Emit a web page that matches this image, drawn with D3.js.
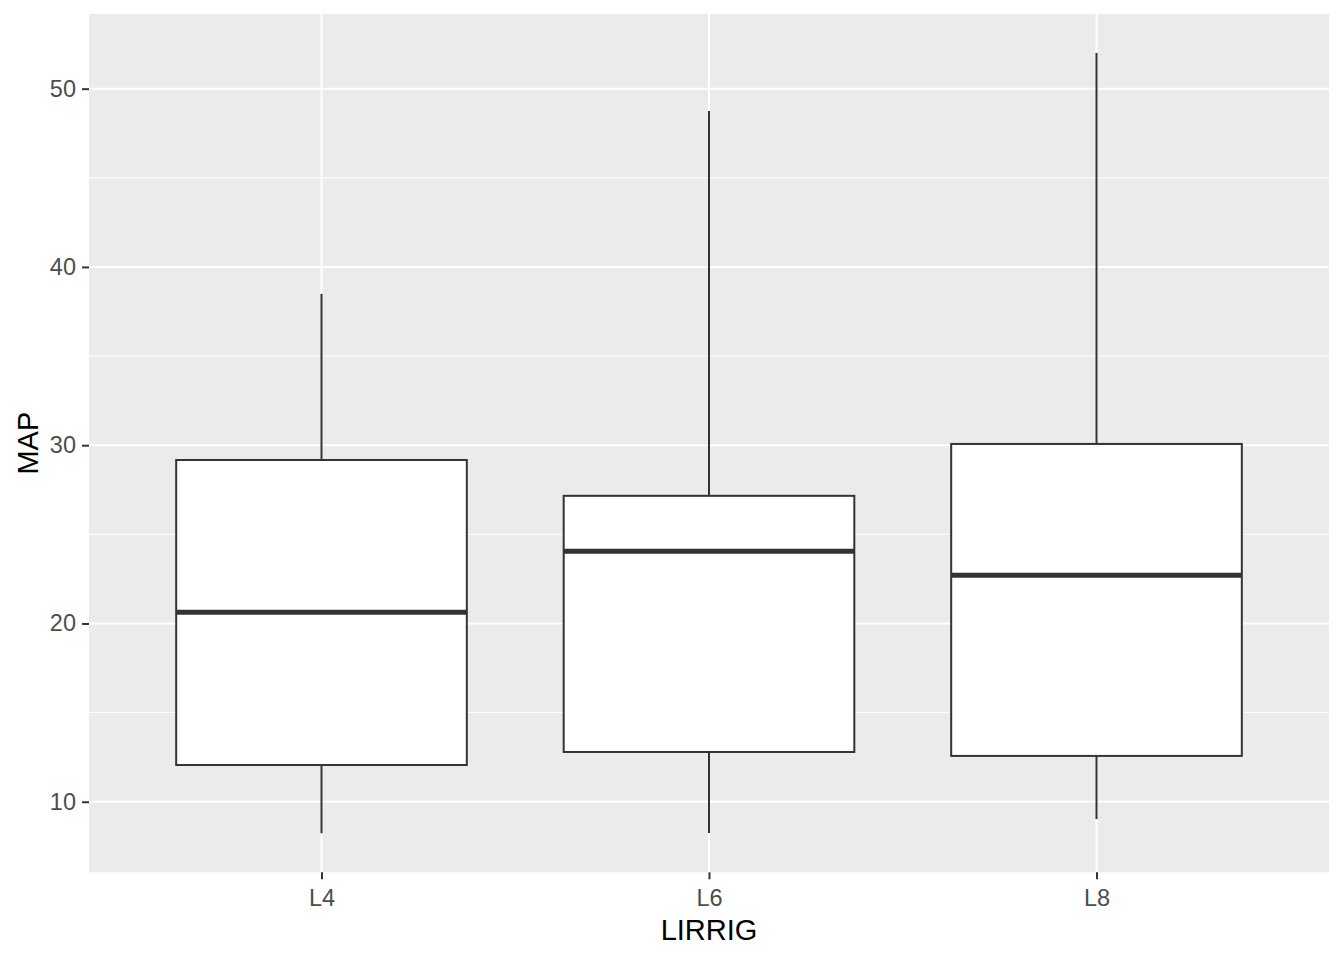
<!DOCTYPE html>
<html>
<head>
<meta charset="utf-8">
<script src="https://cdn.jsdelivr.net/npm/d3@7"></script>
<style>
  html, body { margin: 0; padding: 0; background: #fff; }
  text { font-family: "Liberation Sans", Arial, sans-serif; }
</style>
</head>
<body>
<svg id="chart" width="1344" height="960"></svg>
<script>
// ---- data ----
const categories = ["L4", "L6", "L8"];
const lowerWhisker = [8.23, 8.24, 9.03];
const q1 = [12.06, 12.79, 12.57];
const median = [20.63, 24.05, 22.70];
const q3 = [29.17, 27.16, 30.07];
const upperWhisker = [38.49, 48.75, 52.0];
const yTicks = [10, 20, 30, 40, 50];
const yMinorTicks = [15, 25, 35, 45];
const xTitle = "LIRRIG";
const yTitle = "MAP";

// ---- layout ----
const svg = d3.select("#chart");
const panel = { left: 89, right: 1329, top: 14, bottom: 872.3 };

const dataMin = d3.min(lowerWhisker), dataMax = d3.max(upperWhisker);
const pad = (dataMax - dataMin) * 0.05;
const y = d3.scaleLinear().domain([dataMin - pad, dataMax + pad]).range([panel.bottom, panel.top]);
const x = d3.scalePoint().domain(categories).range([panel.left, panel.right]).padding(0.6);
const boxW = x.step() * 0.75;

// panel background
svg.append("rect")
  .attr("x", panel.left).attr("y", panel.top)
  .attr("width", panel.right - panel.left).attr("height", panel.bottom - panel.top)
  .attr("fill", "#EBEBEB");

// minor grid
svg.append("g").selectAll("line").data(yMinorTicks).join("line")
  .attr("x1", panel.left).attr("x2", panel.right)
  .attr("y1", d => y(d)).attr("y2", d => y(d))
  .attr("stroke", "#fff").attr("stroke-width", 1);

// major grid
svg.append("g").selectAll("line").data(yTicks).join("line")
  .attr("x1", panel.left).attr("x2", panel.right)
  .attr("y1", d => y(d)).attr("y2", d => y(d))
  .attr("stroke", "#fff").attr("stroke-width", 2);
svg.append("g").selectAll("line").data(categories).join("line")
  .attr("x1", d => x(d)).attr("x2", d => x(d))
  .attr("y1", panel.top).attr("y2", panel.bottom)
  .attr("stroke", "#fff").attr("stroke-width", 2);

// boxes
const rows = categories.map((c, i) => ({ c, lo: lowerWhisker[i], q1: q1[i], med: median[i], q3: q3[i], hi: upperWhisker[i] }));
const g = svg.append("g");
const bx = g.selectAll("g").data(rows).join("g");
bx.append("line")
  .attr("x1", d => x(d.c)).attr("x2", d => x(d.c))
  .attr("y1", d => y(d.q3)).attr("y2", d => y(d.hi))
  .attr("stroke", "#333333").attr("stroke-width", 2);
bx.append("line")
  .attr("x1", d => x(d.c)).attr("x2", d => x(d.c))
  .attr("y1", d => y(d.q1)).attr("y2", d => y(d.lo))
  .attr("stroke", "#333333").attr("stroke-width", 2);
bx.append("rect")
  .attr("x", d => x(d.c) - boxW / 2).attr("width", boxW)
  .attr("y", d => y(d.q3)).attr("height", d => y(d.q1) - y(d.q3))
  .attr("fill", "#fff").attr("stroke", "#333333").attr("stroke-width", 2);
bx.append("line")
  .attr("x1", d => x(d.c) - boxW / 2).attr("x2", d => x(d.c) + boxW / 2)
  .attr("y1", d => y(d.med)).attr("y2", d => y(d.med))
  .attr("stroke", "#333333").attr("stroke-width", 5);

// axes
const yAxis = d3.axisLeft(y).tickValues(yTicks).tickSize(7).tickPadding(6);
const ya = svg.append("g").attr("transform", `translate(${panel.left},0)`).call(yAxis);
ya.select(".domain").remove();
ya.selectAll(".tick line").attr("stroke", "#333333").attr("stroke-width", 2);
ya.selectAll(".tick text").attr("fill", "#4D4D4D").style("font-size", "23.5px")
  .style("font-family", "'Liberation Sans', Arial, sans-serif");

const xAxis = d3.axisBottom(x).tickSize(7).tickPadding(10);
const xa = svg.append("g").attr("transform", `translate(0,${panel.bottom})`).call(xAxis);
xa.select(".domain").remove();
xa.selectAll(".tick line").attr("stroke", "#333333").attr("stroke-width", 2);
xa.selectAll(".tick text").attr("fill", "#4D4D4D").style("font-size", "23.5px")
  .style("font-family", "'Liberation Sans', Arial, sans-serif");

// titles
svg.append("text")
  .attr("x", (panel.left + panel.right) / 2).attr("y", 940)
  .attr("text-anchor", "middle").attr("fill", "#000")
  .style("font-size", "29px").text(xTitle);
svg.append("text")
  .attr("transform", `translate(38,${(panel.top + panel.bottom) / 2}) rotate(-90)`)
  .attr("text-anchor", "middle").attr("fill", "#000")
  .style("font-size", "29px").text(yTitle);
</script>
</body>
</html>
